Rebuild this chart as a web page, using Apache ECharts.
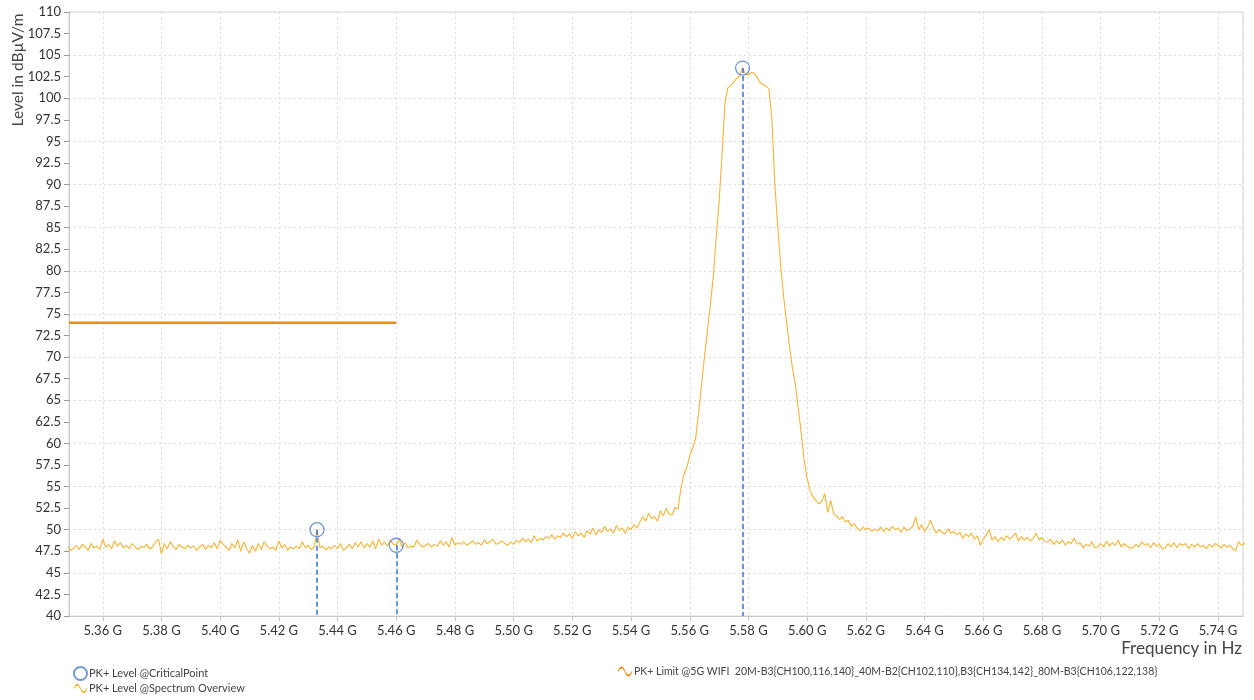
<!DOCTYPE html>
<html>
<head>
<meta charset="utf-8">
<script src="https://cdn.jsdelivr.net/npm/echarts@6/dist/echarts.min.js"></script>
<style>
html,body{margin:0;padding:0;background:#fff;}
#chart{width:1254px;height:700px;}
</style>
</head>
<body>
<div id="chart"></div>
<script>
// Frequency sweep (GHz): start and 1 MHz step
var freqStartGHz = 5.348;
var freqStepGHz = 0.001;

// PK+ Level @Spectrum Overview (dBµV/m)
var levels5348 = [48.1, 47.6];
var levels5350 = [
  47.8,48.2,47.7,48.3,48.0,47.6,48.4,47.9,48.1,47.7,
  48.9,48.0,48.3,47.8,48.7,48.1,48.5,47.9,48.2,47.8,
  48.4,48.0,47.7,48.1,47.9,48.3,47.8,48.0,48.6,48.9,
  47.2,48.4,47.8,48.6,48.1,47.7,48.3,48.0,47.8,48.2,
  47.9,48.1,47.6,48.0,48.3,47.7,48.2,47.9,48.5,47.8,
  48.8,48.3,48.0,47.6,48.4,47.9,48.8,47.5,48.6,47.8,
  47.3,48.2,47.5,48.4,47.7,48.6,48.1,47.8,48.0,47.6,
  48.7,47.9,48.3,47.6,48.0,47.8,48.1,47.8,48.6,47.9,
  48.2,47.7,48.0,50.0,47.9,48.1,47.7,48.0,47.8,48.2,
  47.8,48.4,47.6,47.9,48.3,47.8,48.5,48.0,48.6,47.9
];
var levels5450 = [
  48.4,48.0,48.7,47.8,48.9,48.2,48.6,48.1,48.8,48.3,
  48.2,48.9,48.0,48.5,47.9,48.1,48.0,48.8,48.3,48.0,
  48.2,48.4,48.0,48.3,48.1,48.7,48.2,48.6,48.0,49.1,
  48.2,48.5,48.3,48.6,48.2,48.4,48.7,48.3,48.5,48.2,
  48.8,48.4,48.6,48.9,48.3,48.5,48.7,48.4,48.2,48.6,
  48.3,48.8,48.5,49.0,48.6,48.9,48.5,49.3,48.7,49.0,
  48.8,49.2,49.0,49.4,48.9,49.3,49.1,49.6,49.2,49.5,
  49.0,49.8,49.3,49.6,49.1,49.9,49.5,50.2,49.4,50.0,
  49.7,50.4,49.8,50.1,49.6,50.5,49.9,50.2,49.6,50.3,
  50.0,50.6,50.2,50.9,51.5,51.0,51.9,51.3,51.5,51.0
];
var levels5550 = [
  52.2,51.6,52.5,51.8,51.7,52.6,52.4,54.8,56.4,57.2,
  58.6,59.5,60.6,63.5,66.8,70.0,73.0,76.0,79.3,83.8,
  88.0,93.5,99.5,101.2,101.5,101.9,102.3,102.6,103.5,102.8,
  102.7,103.0,102.9,102.4,101.8,101.6,101.4,101.1,97.5,90.0,
  85.0,80.5,77.0,74.0,71.2,68.7,66.8,64.0,61.2,58.0,
  56.0,54.5,53.8,53.4,53.0,53.3,54.2,52.0,53.4,51.9,
  51.6,51.2,51.5,50.9,51.1,50.4,50.7,50.2,49.9,50.3,
  50.0,50.2,49.8,50.1,49.9,50.3,49.8,50.2,49.9,50.4,
  50.0,50.2,49.7,50.3,49.9,50.1,50.4,51.5,50.0,50.6,
  49.8,50.3,51.1,50.2,49.6,50.0,49.7,49.5,50.1,49.6
];
var levels5650 = [
  49.8,49.4,49.7,49.0,49.5,49.2,49.6,48.9,49.3,48.2,
  48.9,49.4,50.0,48.8,49.2,48.6,49.1,48.8,49.3,48.9,
  49.2,49.6,48.7,49.2,48.8,49.1,48.7,49.0,49.6,48.8,
  49.1,48.6,48.6,48.9,48.3,48.7,48.4,48.8,48.2,48.6,
  48.4,49.0,48.3,48.5,47.9,48.3,48.1,48.6,47.9,48.0,
  48.4,48.0,48.7,48.1,48.5,48.2,48.8,48.0,48.4,48.1,
  47.9,47.9,48.3,48.0,48.6,48.2,48.4,47.9,48.5,48.1,
  48.3,47.8,47.9,48.4,48.0,48.5,47.9,48.4,48.2,48.4,
  47.8,48.3,48.0,48.4,48.0,48.2,47.8,48.3,48.0,48.4,
  48.2,47.9,48.3,48.0,48.2,47.8,47.6,48.6,48.2,48.4,
  48.3
];

// PK+ Level @CriticalPoint markers
var critFreqs = [5.433, 5.460, 5.578];
var critLevels = [50.0, 48.2, 103.5];

// PK+ Limit segment
var limitFreqs = [5.3485, 5.460];
var limitLevels = [74, 74];

var nameCrit = 'PK+ Level @CriticalPoint';
var nameSpec = 'PK+ Level @Spectrum Overview';
var nameLimit = 'PK+ Limit @5G WIFI  20M-B3{CH100,116,140}_40M-B2{CH102,110},B3{CH134,142}_80M-B3{CH106,122,138}';

var xMin = 5.3485, xMax = 5.7485, yMin = 40, yMax = 110;

var allLevels = levels5348.concat(levels5350, levels5450, levels5550, levels5650);
var specData = allLevels.map(function (v, i) {
  return [+(freqStartGHz + i * freqStepGHz).toFixed(3), v];
});
var critData = critFreqs.map(function (f, i) { return [f, critLevels[i]]; });
var limitData = limitFreqs.map(function (f, i) { return [f, limitLevels[i]]; });
var dropLines = critFreqs.map(function (f, i) {
  return [{ coord: [f, critLevels[i]] }, { coord: [f, yMin] }];
});

var FONT = 'Lato, "Noto Sans", sans-serif';
var wave = 'path://M0,6 C3,-1 6,-1 9,6 C12,13 15,13 18,6 L18,8.6 C15,15.6 12,15.6 9,8.6 C6,1.6 3,1.6 0,8.6 Z';

var chart = echarts.init(document.getElementById('chart'), null, { renderer: 'canvas' });
chart.setOption({
  animation: false,
  backgroundColor: '#ffffff',
  textStyle: { fontFamily: FONT },
  grid: {
    left: 69, right: 11, top: 12, bottom: 84,
    show: true, borderColor: '#d6d6d6', borderWidth: 1
  },
  legend: [
    {
      data: [
        { name: nameCrit, icon: 'circle' },
        { name: nameSpec, icon: wave }
      ],
      orient: 'vertical', left: 73, top: 666, padding: 0, itemGap: 2,
      itemWidth: 13, itemHeight: 13,
      textStyle: { fontSize: 11, color: '#444', fontFamily: FONT, padding: [0, 0, 0, -3] }
    },
    {
      data: [{ name: nameLimit, icon: wave }],
      orient: 'vertical', left: 618, top: 666, padding: 0,
      itemWidth: 14, itemHeight: 13,
      textStyle: { fontSize: 10.5, color: '#444', fontFamily: FONT, padding: [0, 0, 0, -3] }
    }
  ],
  xAxis: {
    type: 'value', min: xMin, max: xMax,
    splitNumber: 20, minInterval: 0.02, maxInterval: 0.02,
    axisLine: { show: true, lineStyle: { color: '#c8c8c8' } },
    axisTick: { show: true, length: 5, lineStyle: { color: '#c8c8c8' } },
    axisLabel: {
      showMinLabel: false, showMaxLabel: false,
      fontSize: 13, color: '#333', margin: 8, fontFamily: FONT,
      formatter: function (v) { return v.toFixed(2) + ' G'; }
    },
    splitLine: { show: true, lineStyle: { color: '#dcdcdc', type: [2, 3], width: 1 } }
  },
  yAxis: [
    {
      type: 'value', min: yMin, max: yMax, interval: 2.5,
      axisLine: { show: true, lineStyle: { color: '#c8c8c8' } },
      axisTick: { show: true, length: 5, lineStyle: { color: '#999' } },
      axisLabel: { fontSize: 13, color: '#333', margin: 8, fontFamily: FONT },
      splitLine: { show: false }
    },
    {
      type: 'value', min: yMin, max: yMax, interval: 5, position: 'left',
      axisLine: { show: false }, axisTick: { show: false }, axisLabel: { show: false },
      splitLine: { show: true, lineStyle: { color: '#dcdcdc', type: [2, 3], width: 1 } }
    }
  ],
  graphic: [
    {
      type: 'text', x: 18, y: 70, rotation: Math.PI / 2,
      style: { text: 'Level in dBµV/m', fontSize: 15.5, fill: '#444', fontFamily: FONT,
               textAlign: 'center', textVerticalAlign: 'middle' }
    },
    {
      type: 'text', x: 1242, y: 649,
      style: { text: 'Frequency in Hz', fontSize: 17, fill: '#444', fontFamily: FONT,
               textAlign: 'right', textVerticalAlign: 'middle' }
    }
  ],
  series: [
    {
      name: nameSpec, type: 'line', data: specData, yAxisIndex: 0,
      showSymbol: false, symbol: 'none',
      lineStyle: { color: '#F5B437', width: 1.1 },
      itemStyle: { color: '#F5B437' },
      z: 2
    },
    {
      name: nameLimit, type: 'line', data: limitData, yAxisIndex: 0,
      showSymbol: false, symbol: 'none',
      lineStyle: { color: '#F28C0A', width: 2.5 },
      itemStyle: { color: '#F28C0A' },
      z: 3
    },
    {
      name: nameCrit, type: 'scatter', data: critData, yAxisIndex: 0,
      symbol: 'circle', symbolSize: 14,
      itemStyle: { color: 'rgba(255,255,255,0)', borderColor: '#4D7FC4', borderWidth: 1.3 },
      z: 5,
      markLine: {
        silent: true, symbol: 'none', label: { show: false },
        lineStyle: { color: '#3A6FD3', type: [5, 3], width: 1.5 },
        data: dropLines
      }
    }
  ]
});
</script>
</body>
</html>
